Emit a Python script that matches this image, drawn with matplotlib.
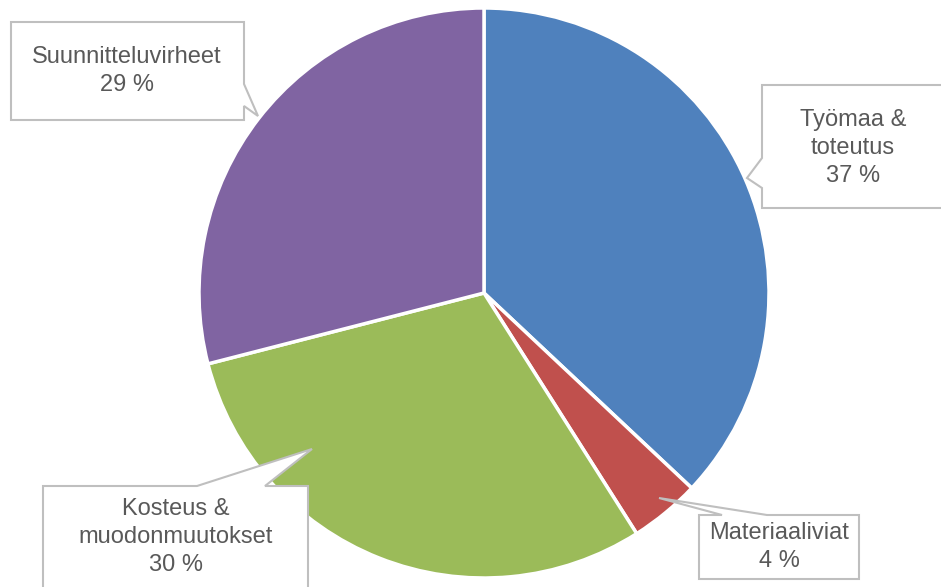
import matplotlib
matplotlib.use('Agg')
import matplotlib.pyplot as plt
from matplotlib.patches import Polygon

# Data
categories = ['Työmaa &\ntoteutus', 'Materiaaliviat', 'Kosteus &\nmuodonmuutokset', 'Suunnitteluvirheet']
shares = [37, 4, 30, 29]
colors = ['#4F81BD', '#C0504D', '#9BBB59', '#8064A2']

W, H = 941, 587
fig = plt.figure(figsize=(W / 100, H / 100), dpi=100)
ax = fig.add_axes([0, 0, 1, 1])

cx, cy, r = 484, H - 293, 285
ax.pie(shares, colors=colors, startangle=90, counterclock=False,
       center=(cx, cy), radius=r, frame=True,
       wedgeprops=dict(edgecolor='white', linewidth=2.5))
ax.set_xlim(0, W)
ax.set_ylim(0, H)
ax.set_aspect('equal')
ax.axis('off')

# callout outlines in image pixel coords (y downwards)
callouts = [
    # Työmaa & toteutus: pointer on left edge
    dict(poly=[(762, 85), (945, 85), (945, 208), (762, 208), (762, 188), (747, 178), (762, 158)],
         text=(853, 148)),
    # Materiaaliviat: pointer on top edge
    dict(poly=[(699, 515), (722, 515), (659, 498), (767, 515), (859, 515), (859, 579), (699, 579)],
         text=(779, 547)),
    # Kosteus & muodonmuutokset: pointer on top edge
    dict(poly=[(43, 486), (197, 486), (312, 449), (265, 486), (308, 486), (308, 595), (43, 595)],
         text=(176, 537)),
    # Suunnitteluvirheet: pointer on right edge
    dict(poly=[(11, 22), (244, 22), (244, 84), (258, 116), (244, 106), (244, 120), (11, 120)],
         text=(127, 71)),
]

for cat, val, c in zip(categories, shares, callouts):
    pts = [(x, H - y) for x, y in c['poly']]
    ax.add_patch(Polygon(pts, closed=True, facecolor='white', edgecolor='#BFBFBF',
                         linewidth=1.5, joinstyle='miter', zorder=5))
    tx, ty = c['text']
    ax.text(tx, H - ty, f'{cat}\n{val} %', ha='center', va='center',
            fontsize=17, color='#595959', family='Liberation Sans',
            linespacing=1.35, zorder=6)

fig.savefig('out.png', dpi=100)
